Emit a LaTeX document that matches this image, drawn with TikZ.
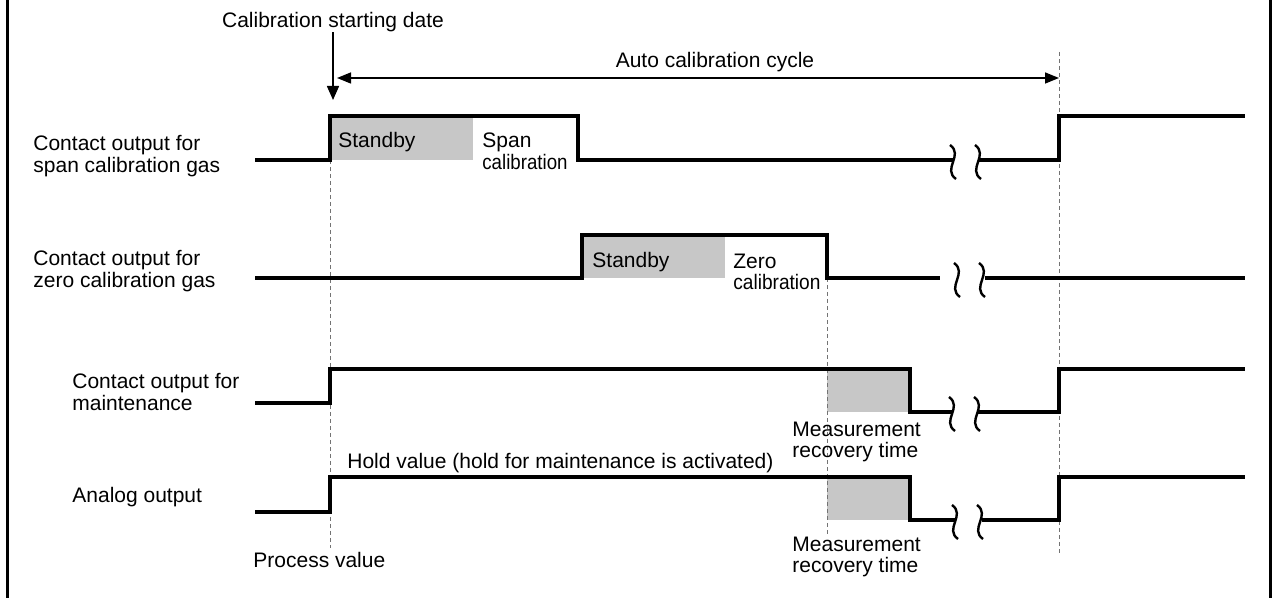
\documentclass[tikz,border=0pt]{standalone}
\usepackage{graphicx}
\usepackage{fontspec}
\setmainfont{Liberation Sans}
\usetikzlibrary{arrows.meta,positioning}

\begin{document}
\begin{tikzpicture}[x=0.5pt, y=-0.5pt,
    wave/.style={line width=2pt, line join=miter},
    guide/.style={black!55, line width=0.5pt, dash pattern=on 2pt off 1.5pt},
    shade/.style={fill=black!22, draw=none},
    lbl/.style={anchor=west, inner sep=0pt, align=left, font=\fontsize{10.5}{10.8}\selectfont},
    arr/.style={line width=0.75pt, -{Triangle[length=7pt,width=6pt]}},
    dbl/.style={line width=0.75pt, {Triangle[length=7pt,width=5.5pt]}-{Triangle[length=7pt,width=5.5pt]}},
    brk/.pic={\draw[line width=1.2pt] (-3,-17) .. controls (11,-7) and (-11,7) .. (3,17);}
]
\useasboundingbox (0,0) rectangle (1275,598);

% frame sides
\draw[line width=1.5pt] (7.5,0) -- (7.5,598);
\draw[line width=1.5pt] (1270,0) -- (1270,598);

% top labels and arrows
\node[lbl, anchor=center] (start) at (333,22) {Calibration starting date};
\coordinate (starttip) at (333,100);
\draw[arr] (start.south) -- (starttip);
\coordinate (cycA) at (337,78);
\coordinate (cycB) at (1059,78);
\draw[dbl] (cycA) -- (cycB);
\node[lbl, anchor=center] (cycle) at (715,62) {Auto calibration cycle};

% shaded intervals
\fill[shade] (330,116) rectangle (473,160);
\fill[shade] (582,235) rectangle (725,278);
\fill[shade] (827,369) rectangle (910,412);
\fill[shade] (827,477) rectangle (910,520);

% dashed guides
\draw[guide] (330,160) -- (330,548);
\draw[guide] (827,278) -- (827,535);
\draw[guide] (1059,52) -- (1059,553);

% row labels
\node[lbl] (spanL) at (33,156) {Contact output for\\span calibration gas};
\node[lbl] (zeroL) at (33,271) {Contact output for\\zero calibration gas};
\node[lbl] (maintL) at (72,392) {Contact output for\\maintenance};
\node[lbl] (anaL) at (72,497) {Analog output};

% waveforms
\draw[wave] (255,160) -- (330,160) -- (330,116) -- (578,116) -- (578,160) -- (953,160);
\draw[wave] (978,160) -- (1059,160) -- (1059,116) -- (1245,116);
\draw[wave] (255,278) -- (582,278) -- (582,235) -- (827,235) -- (827,278) -- (940,278);
\draw[wave] (985,278) -- (1245,278);
\draw[wave] (255,403) -- (330,403) -- (330,369) -- (910,369) -- (910,412) -- (952,412);
\draw[wave] (977,412) -- (1059,412) -- (1059,369) -- (1245,369);
\draw[wave] (255,512) -- (330,512) -- (330,477) -- (910,477) -- (910,520) -- (955,520);
\draw[wave] (982,520) -- (1059,520) -- (1059,477) -- (1245,477);

% breaks
\foreach \bx/\by in {953/162, 978/162, 957/280, 982/280, 952/414, 977/414, 955/522, 980/522}
    \pic at (\bx,\by) {brk};

% interval texts
\node[lbl] (spanSb) at (338,142) {Standby};
\node[lbl] (spanCal) at (482,151) {Span\\\scalebox{0.89}[1]{calibration}};
\node[lbl] (zeroSb) at (592,262) {Standby};
\node[lbl] (zeroCal) at (733,272) {Zero\\\scalebox{0.91}[1]{calibration}};
\node[lbl] (hold) at (347,463) {Hold value (hold for maintenance is activated)};
\node[lbl] (proc) at (253,560) {Process value};
\node[lbl] (recA) at (792,442) {Measurement\\recovery time};
\node[lbl] (recB) at (792,557) {Measurement\\recovery time};
\end{tikzpicture}
\end{document}
